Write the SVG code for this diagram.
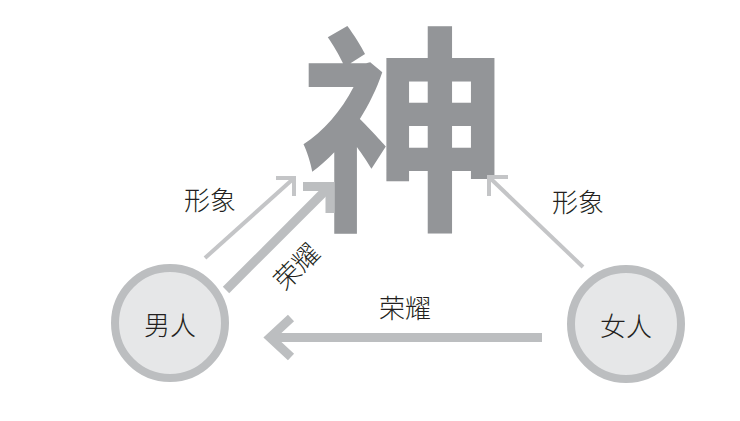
<svg xmlns="http://www.w3.org/2000/svg" width="740" height="421" viewBox="0 0 740 421">
<style>
.t{font-family:"Noto Sans CJK SC","Noto Sans CJK JP",sans-serif;font-weight:300;fill:#231f20;font-size:26px;text-anchor:middle}
.ring{fill:#e6e7e8;stroke:#bcbec0;stroke-width:8}
.thick{fill:none;stroke:#bcbec0;stroke-width:9;stroke-linejoin:miter;stroke-linecap:butt}
.thin{fill:none;stroke:#c4c5c7;stroke-width:4;stroke-linejoin:miter;stroke-linecap:butt}
</style>
<rect width="740" height="421" fill="#fff"/>
<g id="god">
<text x="404" y="214" font-family="Noto Sans CJK SC, Noto Sans CJK JP, sans-serif" font-weight="700" font-size="212" fill="#939598" text-anchor="middle" transform="translate(404,214) scale(0.98,1.04) translate(-404,-214)">神</text>
</g>
<g id="connectors">
<line class="thin" x1="205" y1="258" x2="293" y2="179"/>
<polyline class="thin" points="276,178 294,178 294,196"/>
<line class="thick" x1="226" y1="290" x2="328" y2="188"/>
<polyline class="thick" points="303,186.5 330,186.5 330,213"/>
<line class="thin" x1="583" y1="267" x2="490" y2="178"/>
<polyline class="thin" points="508,177 489,177 489,196"/>
<line class="thick" x1="542" y1="337.5" x2="268" y2="337.5"/>
<polyline class="thick" points="291,318 270,337.5 291,357"/>
<text class="t" x="210" y="210">形象</text>
<text class="t" x="578" y="212">形象</text>
<text class="t" x="405" y="318">荣耀</text>
<text class="t" x="0" y="9" transform="translate(297,267) rotate(-45)">荣耀</text>
</g>
<g id="man">
<circle class="ring" cx="170" cy="323" r="55"/>
<text class="t" x="170" y="335">男人</text>
</g>
<g id="woman">
<circle class="ring" cx="626" cy="324" r="55"/>
<text class="t" x="626" y="336">女人</text>
</g>
</svg>
